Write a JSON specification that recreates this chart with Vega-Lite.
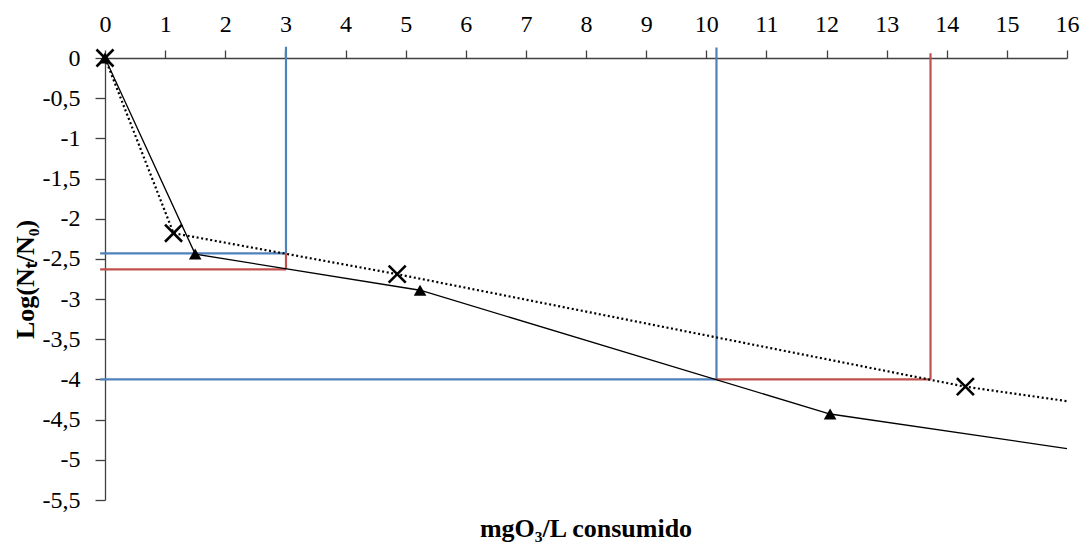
{
  "$schema": "https://vega.github.io/schema/vega-lite/v6.json",
  "width": 962,
  "height": 442,
  "autosize": {"type": "none"},
  "padding": {"left": 105, "top": 58, "right": 18, "bottom": 50},
  "background": "white",
  "config": {"view": {"stroke": null}, "font": "Liberation Serif"},
  "title": {
    "text": "mgO₃/L consumido",
    "orient": "bottom",
    "anchor": "middle",
    "frame": "group",
    "font": "Liberation Serif",
    "fontSize": 26,
    "fontWeight": "bold",
    "color": "#000000",
    "offset": 4
  },
  "datasets": {
    "refs": [
      {"grupo": "azul", "x": 3.01, "x2": 3.01, "y": 0.14, "y2": -2.43},
      {"grupo": "azul", "x": -0.08, "x2": 3.01, "y": -2.43, "y2": -2.43},
      {"grupo": "azul", "x": 10.17, "x2": 10.17, "y": 0.13, "y2": -4.0},
      {"grupo": "azul", "x": -0.08, "x2": 10.17, "y": -4.0, "y2": -4.0},
      {"grupo": "rojo", "x": -0.08, "x2": 3.01, "y": -2.63, "y2": -2.63},
      {"grupo": "rojo", "x": 3.01, "x2": 3.01, "y": -2.43, "y2": -2.63},
      {"grupo": "rojo", "x": 10.17, "x2": 13.73, "y": -4.0, "y2": -4.0},
      {"grupo": "rojo", "x": 13.73, "x2": 13.73, "y": 0.06, "y2": -4.0}
    ],
    "solida": [
      {"orden": 1, "x": 0, "y": 0},
      {"orden": 2, "x": 1.5, "y": -2.44},
      {"orden": 3, "x": 5.24, "y": -2.89},
      {"orden": 4, "x": 12.06, "y": -4.43},
      {"orden": 5, "x": 16, "y": -4.86}
    ],
    "punteada": [
      {"orden": 1, "x": 0, "y": 0},
      {"orden": 2, "x": 1.14, "y": -2.18},
      {"orden": 3, "x": 4.86, "y": -2.69},
      {"orden": 4, "x": 14.31, "y": -4.09},
      {"orden": 5, "x": 16, "y": -4.27}
    ],
    "triangulos": [
      {"x": 0, "y": 0},
      {"x": 1.5, "y": -2.44},
      {"x": 5.24, "y": -2.89},
      {"x": 12.06, "y": -4.43}
    ],
    "cruces": [
      {"x": 0, "y": 0},
      {"x": 1.14, "y": -2.18},
      {"x": 4.86, "y": -2.69},
      {"x": 14.31, "y": -4.09}
    ]
  },
  "encoding": {
    "x": {
      "field": "x",
      "type": "quantitative",
      "scale": {"domain": [0, 16], "nice": false, "zero": false},
      "axis": {
        "orient": "top",
        "values": [0,1,2,3,4,5,6,7,8,9,10,11,12,13,14,15,16],
        "grid": false,
        "title": null,
        "domainColor": "#404040",
        "domainWidth": 1.3,
        "tickColor": "#404040",
        "tickWidth": 1.3,
        "tickSize": 8,
        "labelFont": "Liberation Serif",
        "labelFontSize": 24,
        "labelColor": "#000000",
        "labelPadding": 14,
        "labelFlush": false,
        "labelOverlap": false
      }
    },
    "y": {
      "field": "y",
      "type": "quantitative",
      "scale": {"domain": [-5.5, 0], "nice": false, "zero": false},
      "axis": {
        "values": [0,-0.5,-1,-1.5,-2,-2.5,-3,-3.5,-4,-4.5,-5,-5.5],
        "labelExpr": "replace(toString(datum.value), '.', ',')",
        "grid": false,
        "title": "Log(Nₜ/N₀)",
        "titleFont": "Liberation Serif",
        "titleFontSize": 26,
        "titleFontWeight": "bold",
        "titleColor": "#000000",
        "titlePadding": 4,
        "domainColor": "#404040",
        "domainWidth": 1.3,
        "tickColor": "#404040",
        "tickWidth": 1.3,
        "tickSize": 10,
        "labelFont": "Liberation Serif",
        "labelFontSize": 24,
        "labelColor": "#000000",
        "labelPadding": 15,
        "labelFlush": false,
        "labelOverlap": false
      }
    }
  },
  "layer": [
    {
      "data": {"name": "refs"},
      "mark": {"type": "rule", "strokeWidth": 2.2, "clip": false},
      "encoding": {
        "x2": {"field": "x2"},
        "y2": {"field": "y2"},
        "color": {
          "field": "grupo",
          "type": "nominal",
          "scale": {"domain": ["azul", "rojo"], "range": ["#4F81BD", "#C0504D"]},
          "legend": null
        }
      }
    },
    {
      "data": {"name": "solida"},
      "mark": {"type": "line", "color": "#000000", "strokeWidth": 1.3},
      "encoding": {"order": {"field": "orden", "type": "quantitative"}}
    },
    {
      "data": {"name": "punteada"},
      "mark": {"type": "line", "color": "#000000", "strokeWidth": 2.2, "strokeDash": [2, 2.6]},
      "encoding": {"order": {"field": "orden", "type": "quantitative"}}
    },
    {
      "data": {"name": "triangulos"},
      "mark": {"type": "point", "shape": "triangle-up", "size": 160, "filled": true, "color": "#000000", "opacity": 1}
    },
    {
      "data": {"name": "cruces"},
      "mark": {"type": "point", "shape": "M-1,-1L1,1M-1,1L1,-1", "size": 290, "filled": false, "color": "#000000", "strokeWidth": 2.6, "opacity": 1}
    }
  ]
}
